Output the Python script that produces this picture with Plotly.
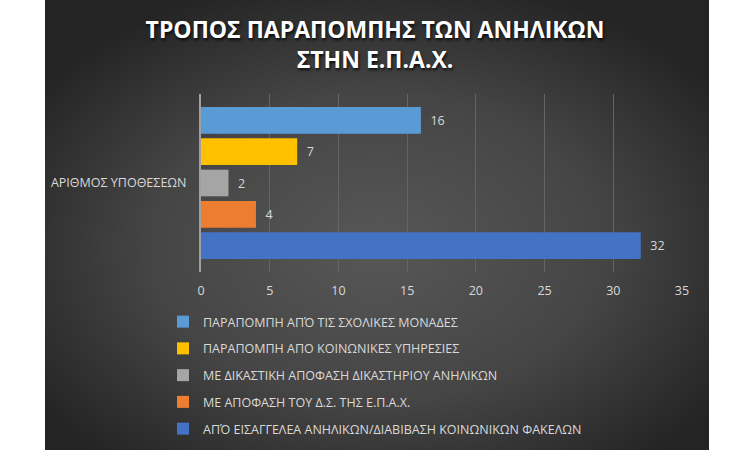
import base64
import plotly.graph_objects as go

category = "ΑΡΙΘΜΟΣ ΥΠΟΘΕΣΕΩΝ"
series_names = [
    "ΠΑΡΑΠΟΜΠΗ ΑΠΌ ΤΙΣ ΣΧΟΛΙΚΕΣ ΜΟΝΑΔΕΣ",
    "ΠΑΡΑΠΟΜΠΗ ΑΠΟ ΚΟΙΝΩΝΙΚΕΣ ΥΠΗΡΕΣΙΕΣ",
    "ΜΕ ΔΙΚΑΣΤΙΚΗ ΑΠΟΦΑΣΗ ΔΙΚΑΣΤΗΡΙΟΥ ΑΝΗΛΙΚΩΝ",
    "ΜΕ ΑΠΟΦΑΣΗ ΤΟΥ Δ.Σ. ΤΗΣ Ε.Π.Α.Χ.",
    "ΑΠΌ ΕΙΣΑΓΓΕΛΕΑ ΑΝΗΛΙΚΩΝ/ΔΙΑΒΙΒΑΣΗ ΚΟΙΝΩΝΙΚΩΝ ΦΑΚΕΛΩΝ",
]
series_values = [16, 7, 2, 4, 32]
series_colors = ["#5B9BD5", "#FFC000", "#A5A5A5", "#ED7D31", "#4472C4"]
x_ticks = [0, 5, 10, 15, 20, 25, 30, 35]

W, H = 750, 450
L, R, T, B = 201, 68, 94, 178
pw, ph = W - L - R, H - T - B

svg = f'''<svg xmlns="http://www.w3.org/2000/svg" width="664" height="450" viewBox="0 0 664 450">
<defs><radialGradient id="g" cx="50%" cy="55%" r="62%" gradientUnits="objectBoundingBox">
<stop offset="0" stop-color="#575757"/><stop offset="0.55" stop-color="#454545"/><stop offset="1" stop-color="#242424"/>
</radialGradient></defs><rect width="664" height="450" fill="url(#g)"/></svg>'''
src = "data:image/svg+xml;base64," + base64.b64encode(svg.encode()).decode()

fig = go.Figure()
for i, (name, val, col) in enumerate(zip(series_names, series_values, series_colors)):
    fig.add_trace(go.Bar(
        y=[category], x=[val], name=name, orientation="h",
        marker=dict(color=col, line=dict(width=0)),
        text=["  " + str(val)], textposition="outside",
        textfont=dict(color="#d9d9d9", size=12.5, family="Open Sans"),
        legendgroup=f"g{i}", cliponaxis=False,
    ))

def px_to_px(xp):
    return (xp - L) / pw

def py_to_py(yp):
    return (H - B - yp) / ph

fig.add_layout_image(dict(
    source=src, xref="paper", yref="paper",
    x=px_to_px(45), y=py_to_py(0), sizex=664 / pw, sizey=450 / ph,
    xanchor="left", yanchor="top", sizing="stretch", layer="below",
))

fig.update_layout(
    width=W, height=H,
    margin=dict(l=L, r=R, t=T, b=B, autoexpand=False),
    paper_bgcolor="white", plot_bgcolor="rgba(0,0,0,0)",
    barmode="group", bargap=0.12, bargroupgap=0.15,
    title=dict(
        text="ΤΡΟΠΟΣ ΠΑΡΑΠΟΜΠΗΣ ΤΩΝ ΑΝΗΛΙΚΩΝ<br>ΣΤΗΝ Ε.Π.Α.Χ.",
        x=0.5, xref="container", xanchor="center", yref="container",
        y=1 - 38 / H, yanchor="middle",
        font=dict(family="Open Sans", size=23, color="white", weight="bold",
                  shadow="1px 2px 3px rgba(0,0,0,0.8)"),
    ),
    font=dict(family="Open Sans", color="#d9d9d9"),
    xaxis=dict(
        range=[0, 35], tickvals=x_ticks, showgrid=True, gridcolor="#646464", gridwidth=1,
        zeroline=False, showline=False, ticks="", ticklabelstandoff=9,
        tickfont=dict(size=12.5, color="#d9d9d9"), fixedrange=True,
    ),
    yaxis=dict(
        autorange="reversed", showline=True, linecolor="#a0a0a0", linewidth=2,
        ticks="", ticklabelstandoff=10, fixedrange=True,
        tickfont=dict(size=12.5, color="#d9d9d9"), showgrid=False,
    ),
    legend=dict(
        x=px_to_px(163), y=py_to_py(307), xanchor="left", yanchor="top",
        orientation="v", traceorder="grouped", tracegroupgap=7.5,
        font=dict(size=12.5, color="#d9d9d9", family="Open Sans"),
        bgcolor="rgba(0,0,0,0)", itemclick=False, itemdoubleclick=False,
    ),
    showlegend=True,
)

fig.write_html("out.html", config={"displayModeBar": False},
               post_script="document.body.style.margin='0';")
